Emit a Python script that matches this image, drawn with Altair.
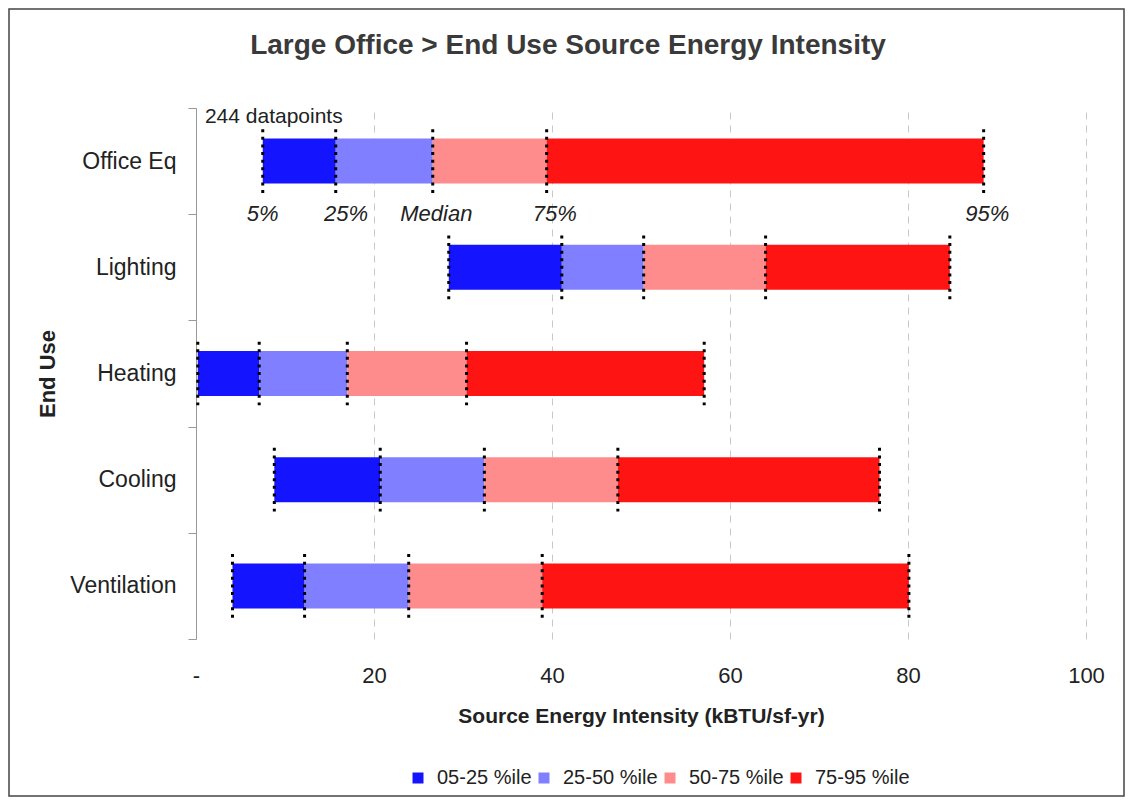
import altair as alt
import pandas as pd

categories = ["Office Eq", "Lighting", "Heating", "Cooling", "Ventilation"]
p05 = [7.5, 28.4, 0.2, 8.8, 4.1]
p25 = [15.7, 41.1, 7.1, 20.7, 12.2]
p50 = [26.6, 50.3, 17.0, 32.4, 23.9]
p75 = [39.4, 64.0, 30.4, 47.4, 38.9]
p95 = [88.5, 84.7, 57.1, 76.8, 80.1]

segments = ["05-25 %ile", "25-50 %ile", "50-75 %ile", "75-95 %ile"]
seg_colors = ["#1414ff", "#7f7fff", "#ff8c8c", "#ff1414"]
pct_labels = ["5%", "25%", "Median", "75%", "95%"]
pct_label_x = [7.5, 16.85, 27.0, 40.3, 88.9]
note_text = "244 datapoints"
note_x = 1.0
title_text = "Large Office > End Use Source Energy Intensity"

BAR_HALF = 0.212
RULE_HALF = 0.30

bars, rules = [], []
for i, c in enumerate(categories):
    vals = [p05[i], p25[i], p50[i], p75[i], p95[i]]
    for k, s in enumerate(segments):
        bars.append({"cat": c, "idx": i, "seg": s, "start": vals[k], "end": vals[k + 1],
                     "y0": i - BAR_HALF, "y1": i + BAR_HALF})
    for v in vals:
        rules.append({"cat": c, "idx": i, "val": v, "y0": i - RULE_HALF, "y1": i + RULE_HALF})
bars = pd.DataFrame(bars)
rules = pd.DataFrame(rules)
labels_df = pd.DataFrame({"val": pct_label_x, "idx": [0] * 5, "text": pct_labels})
note_df = pd.DataFrame({"val": [note_x], "idx": [0], "text": [note_text]})
title_df = pd.DataFrame({"text": [title_text]})

W, H = 890, 531

label_expr = "['Office Eq','Lighting','Heating','Cooling','Ventilation',''][round(datum.value + 0.5)]"

x_scale = alt.Scale(domain=[0, 100], nice=False, zero=False)
y_scale = alt.Scale(domain=[-0.5, 4.5], nice=False, zero=False, reverse=True)

x_axis = alt.Axis(title="Source Energy Intensity (kBTU/sf-yr)", values=[0, 20, 40, 60, 80, 100],
                  labelExpr="datum.value == 0 ? '-' : datum.label", ticks=False, domain=False,
                  grid=True, gridColor="#c8c8c8", gridDash=[7, 6], gridWidth=1,
                  labelFontSize=22, labelColor="#222222", labelPadding=26, labelFlush=False,
                  titleFontSize=21, titleFontWeight="bold", titleColor="#222222", titlePadding=19)
y_axis = alt.Axis(title="End Use", values=[-0.5, 0.5, 1.5, 2.5, 3.5, 4.5], labelExpr=label_expr,
                  labelOffset=53, tickSize=8, tickColor="#999999", domainColor="#999999",
                  grid=False, labelFontSize=23, labelColor="#222222", labelPadding=12,
                  labelOverlap=False, titleFontSize=22, titleFontWeight="bold",
                  titleColor="#222222", titlePadding=10)

frame = alt.Chart(title_df).mark_rect(filled=False, stroke="#444444", strokeWidth=1.5).encode(
    x=alt.value(-187), x2=alt.value(928), y=alt.value(-99), y2=alt.value(688))

title_layer = alt.Chart(title_df).mark_text(fontSize=28, fontWeight="bold", color="#3a3a3a",
                                            align="center", baseline="middle").encode(
    x=alt.value(372), y=alt.value(-62), text="text:N")

bar_layer = alt.Chart(bars).mark_bar().encode(
    x=alt.X("start:Q", scale=x_scale, axis=x_axis),
    x2="end:Q",
    y=alt.Y("y0:Q", scale=y_scale, axis=y_axis),
    y2="y1:Q",
    color=alt.Color("seg:N", scale=alt.Scale(domain=segments, range=seg_colors),
                    legend=alt.Legend(title=None, orient="none", legendX=212, legendY=660,
                                      direction="horizontal",
                                      symbolType="square", symbolSize=121, symbolStrokeWidth=0,
                                      labelFontSize=20, labelColor="#222222", labelOffset=9,
                                      columnPadding=2, symbolOffset=0, padding=0)),
)

rule_layer = alt.Chart(rules).mark_rule(color="black", strokeWidth=3, strokeDash=[3, 4.6]).encode(
    x="val:Q", y="y0:Q", y2="y1:Q")

label_layer = alt.Chart(labels_df).mark_text(fontSize=22, fontStyle="italic", align="center",
                                             baseline="middle", dy=53, color="#222222").encode(
    x="val:Q", y="idx:Q", text="text:N")

note_layer = alt.Chart(note_df).mark_text(fontSize=21, align="left", baseline="middle", dy=-44,
                                          color="#222222").encode(
    x="val:Q", y="idx:Q", text="text:N")

chart = alt.layer(frame, title_layer, bar_layer, rule_layer, label_layer, note_layer).properties(
    width=W, height=H,
    autosize=alt.AutoSizeParams(type="none"),
    padding={"left": 188, "top": 100, "right": 39, "bottom": 158},
).configure(font="Liberation Sans").configure_view(stroke=None)

chart.save("out.html", embed_options={"renderer": "svg", "actions": False})
